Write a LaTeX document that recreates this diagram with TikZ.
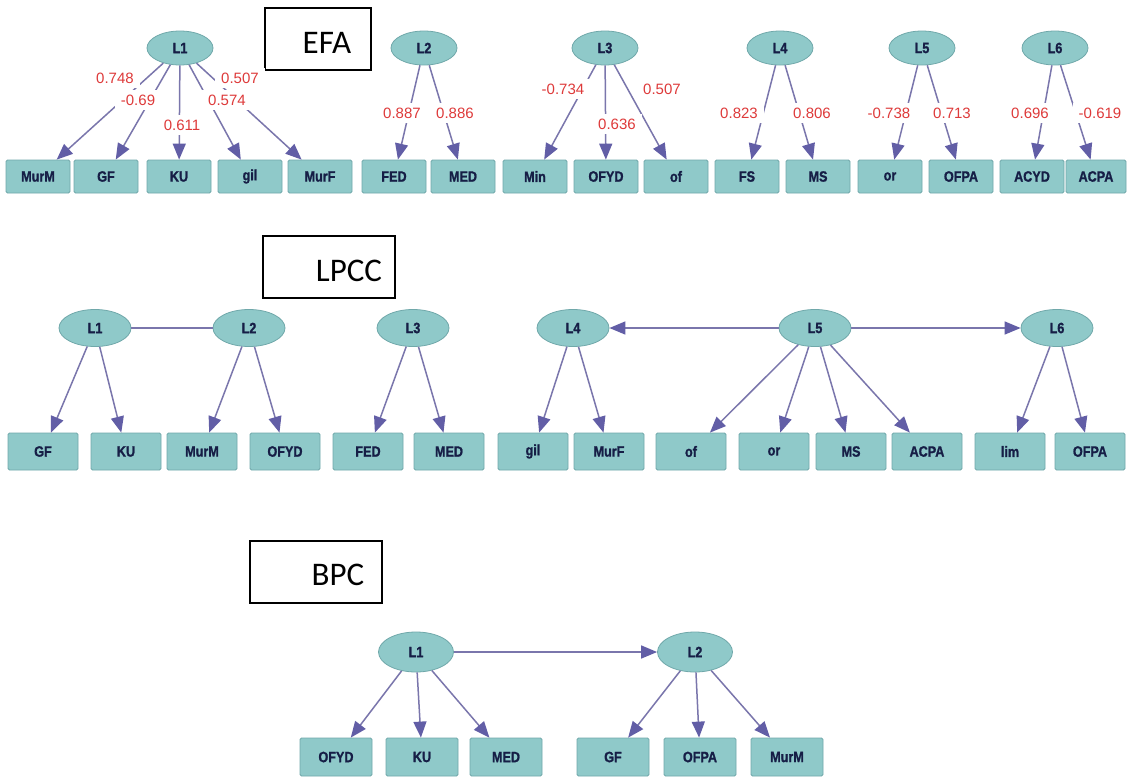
\documentclass[tikz,border=0pt]{standalone}
\usepackage{fontspec}
\usetikzlibrary{shapes.geometric,arrows.meta}
\newfontfamily\nodefont[FakeStretch=0.84,BoldFeatures={FakeBold=1.2}]{Liberation Sans}
\newfontfamily\labfont{Liberation Sans}
\newfontfamily\titlefont{Carlito}
\definecolor{nodefill}{RGB}{143,201,201}
\definecolor{nodeline}{RGB}{112,168,170}
\definecolor{nodetext}{RGB}{22,30,70}
\definecolor{edgecol}{RGB}{122,118,172}
\definecolor{headcol}{RGB}{98,94,166}
\definecolor{labred}{RGB}{222,58,58}
\tikzset{
  lat/.style={ellipse, draw=nodeline, fill=nodefill, line width=0.8,
    minimum width=66, minimum height=34, inner sep=0, text=nodetext,
    font=\nodefont\bfseries\fontsize{15}{15}\selectfont},
  obs/.style={rectangle, rounded corners=1.5, draw=nodeline, fill=nodefill,
    line width=0.8, minimum width=64, minimum height=33, inner sep=0,
    text=nodetext, font=\nodefont\bfseries\fontsize{15}{15}\selectfont},
  lat2/.style={lat, minimum width=72, minimum height=37},
  obs2/.style={obs, minimum width=70, minimum height=37},
  lat3/.style={lat, minimum width=75, minimum height=40},
  obs3/.style={obs, minimum width=72, minimum height=38},
  ld/.style={draw=edgecol, line width=1.5,
    -{Triangle[length=16pt, width=13pt, fill=headcol, color=headcol]}},
  plainedge/.style={draw=edgecol, line width=1.5},
  lab/.style={fill=white, text=labred, inner xsep=6, inner ysep=5,
    font=\labfont\fontsize{15}{15}\selectfont},
  titlebox/.style={draw=black, line width=1.2, fill=white,
    minimum height=62, inner sep=0, font=\titlefont\fontsize{33}{33}\selectfont}
}
\begin{document}
\begin{tikzpicture}[x=1pt, y=-1pt]
\useasboundingbox[fill=white] (0,0) rectangle (1127,777);

% ---------------- EFA ----------------
\node[titlebox, minimum width=106] (tEFA) at (318,39) {};
\node[font=\titlefont\fontsize{33}{33}\selectfont] (tEFAtxt) at (327,43) {EFA};

\node[lat] (eL1) at (180,48) {L1};
\node[lat] (eL2) at (424,48) {L2};
\node[lat] (eL3) at (605,48) {L3};
\node[lat] (eL4) at (780,48) {L4};
\node[lat] (eL5) at (922,48) {L5};
\node[lat] (eL6) at (1055,48) {L6};

\foreach \n/\x in {MurM/38, GF/106, KU/179, gil/250, MurF/320, FED/394,
  MED/463, Min/535, OFYD/606, of/676, FS/747, MS/818, or/890, OFPA/961,
  ACYD/1032}
  \node[obs] (e\n) at (\x,176.5) {\n};
\node[obs, minimum width=60] (eACPA) at (1096,176.5) {ACPA};

\foreach \a/\b in {L1/MurM, L1/GF, L1/KU, L1/gil, L1/MurF, L2/FED, L2/MED,
  L3/Min, L3/OFYD, L3/of, L4/FS, L4/MS, L5/or, L5/OFPA, L6/ACYD, L6/ACPA}
  \draw[ld] (e\a) -- (e\b);

\node[lab] (k1) at (115,78) {0.748};
\node[lab] (k2) at (138,100) {-0.69};
\node[lab] (k5) at (240,78) {0.507};
\node[lab] (k4) at (227,100) {0.574};
\node[lab] (k3) at (182,125) {0.611};
\node[lab] (k6) at (402,113) {0.887};
\node[lab] (k7) at (455,113) {0.886};
\node[lab] (k8) at (563,89) {-0.734};
\node[lab] (k10) at (662,89) {0.507};
\node[lab] (k9) at (617,124) {0.636};
\node[lab] (k11) at (739,113) {0.823};
\node[lab] (k12) at (812,113) {0.806};
\node[lab] (k13) at (889,113) {-0.738};
\node[lab] (k14) at (952,113) {0.713};
\node[lab] (k15) at (1030,113) {0.696};
\node[lab] (k16) at (1100,113) {-0.619};

% ---------------- LPCC ----------------
\node[titlebox, minimum width=132] (tLPCC) at (329,267) {};
\node[font=\titlefont\fontsize{33}{33}\selectfont] (tLPCCtxt) at (349,271) {LPCC};

\node[lat2] (pL1) at (95,328) {L1};
\node[lat2] (pL2) at (249,328) {L2};
\node[lat2] (pL3) at (413,328) {L3};
\node[lat2] (pL4) at (573,328) {L4};
\node[lat2] (pL5) at (815,328) {L5};
\node[lat2] (pL6) at (1057,328) {L6};

\foreach \n/\x in {GF/43, KU/126, MurM/202, OFYD/285, FED/368, MED/449,
  gil/533, MurF/609, of/691, or/774, MS/851, ACPA/927, lim/1010, OFPA/1090}
  \node[obs2] (p\n) at (\x,451.5) {\n};

\draw[plainedge] (pL1) -- (pL2);
\draw[ld] (pL5) -- (pL4);
\draw[ld] (pL5) -- (pL6);
\foreach \a/\b in {L1/GF, L1/KU, L2/MurM, L2/OFYD, L3/FED, L3/MED, L4/gil,
  L4/MurF, L5/of, L5/or, L5/MS, L5/ACPA, L6/lim, L6/OFPA}
  \draw[ld] (p\a) -- (p\b);

% ---------------- BPC ----------------
\node[titlebox, minimum width=132] (tBPC) at (316,572) {};
\node[font=\titlefont\fontsize{33}{33}\selectfont] (tBPCtxt) at (338,575) {BPC};

\node[lat3] (bL1) at (416,652) {L1};
\node[lat3] (bL2) at (695,652) {L2};

\foreach \n/\x in {OFYD/336, KU/422, MED/506, GF/613, OFPA/700, MurM/787}
  \node[obs3] (b\n) at (\x,757) {\n};

\draw[ld] (bL1) -- (bL2);
\foreach \a/\b in {L1/OFYD, L1/KU, L1/MED, L2/GF, L2/OFPA, L2/MurM}
  \draw[ld] (b\a) -- (b\b);
\end{tikzpicture}
\end{document}
